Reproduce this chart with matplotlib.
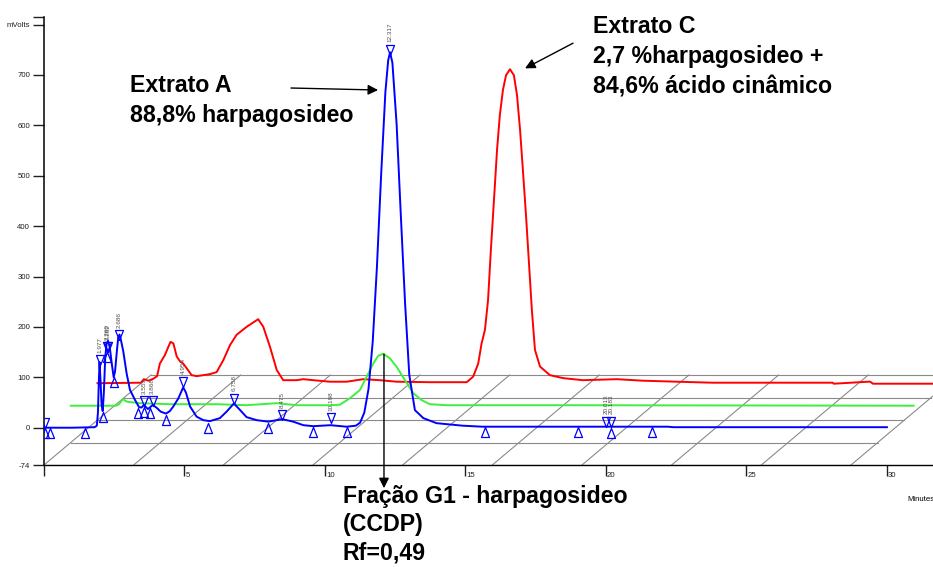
import numpy as np
import matplotlib
matplotlib.use('Agg')
import matplotlib.pyplot as plt
from matplotlib.path import Path
from matplotlib.transforms import ScaledTranslation

plt.rcParams['font.family'] = ['Liberation Sans', 'DejaVu Sans']

# --- traces (time in minutes, signal in mV), front to back ---
blue_t = [0.0, 1.0, 1.80, 1.88, 1.92, 1.95, 1.977, 2.01, 2.05, 2.09, 2.13, 2.18, 2.23, 2.28,
          2.34, 2.41, 2.48, 2.53, 2.59, 2.64, 2.686, 2.73, 2.82, 2.94, 3.06, 3.24, 3.38, 3.47,
          3.553, 3.70, 3.868, 4.00, 4.15, 4.34, 4.48, 4.60, 4.78, 4.954, 5.05, 5.20, 5.43, 5.67,
          5.90, 6.26, 6.50, 6.758, 6.98, 7.21, 7.57, 7.98, 8.28, 8.475, 8.87, 9.23, 9.58, 10.198,
          10.77, 11.10, 11.25, 11.40, 11.55, 11.70, 11.85, 12.00, 12.15, 12.25, 12.317, 12.40,
          12.55, 12.70, 12.85, 13.00, 13.20, 13.50, 13.97, 14.90, 15.60, 17.0, 19.0, 22.2, 22.4, 30.0]
blue_mv = [0, 0, 1, 4, 30, 90, 130, 95, 45, 33, 70, 140, 168, 172,
           160, 128, 100, 112, 150, 178, 185, 176, 152, 108, 75, 55, 41, 40,
           45, 37, 45, 40, 32, 28, 33, 42, 58, 80, 70, 42, 22, 15,
           13, 19, 32, 48, 35, 21, 15, 12, 15, 17, 12, 5, 3, 5,
           2, 4, 10, 30, 77, 171, 320, 503, 666, 729, 745, 724,
           602, 421, 248, 105, 35, 19, 9, 4, 2, 2, 2, 2, 1, 1]

green_t = [0.0, 1.61, 1.72, 1.85, 2.00, 2.46, 3.53, 5.19, 6.26, 7.33, 8.04, 9.23, 9.58, 9.94,
           10.29, 10.59, 10.77, 10.94, 11.12, 11.36, 11.60, 11.89, 12.19, 12.49, 12.78, 13.38,
           17.41, 30.0]
green_mv = [-1, -1, 2, 12, 7, 4, 2, 2, 0, 4, 0, 0, 1, 14,
            30, 63, 83, 98, 102, 93, 76, 50, 24, 10, 2, 0,
            0, -1]

red_t = [0.0, 1.55, 1.65, 1.81, 1.99, 2.12, 2.22, 2.40, 2.52, 2.60, 2.70, 2.82, 2.94, 3.05,
         3.17, 3.35, 3.53, 3.77, 4.00, 4.24, 4.48, 4.72, 4.95, 5.31, 5.72, 5.90, 6.14, 6.38,
         6.61, 7.09, 7.32, 7.68, 8.27, 8.87, 9.46, 10.05, 10.65, 11.83, 13.14, 13.37, 13.55,
         13.67, 13.79, 13.90, 14.00, 14.11, 14.22, 14.32, 14.43, 14.54, 14.68, 14.82, 14.93,
         15.04, 15.14, 15.25, 15.36, 15.46, 15.57, 15.75, 16.10, 16.58, 17.28, 18.48, 19.41,
         20.61, 21.90, 26.17, 26.20, 27.44, 27.50, 27.60, 30.0]
red_mv = [-1, 0, 7, 4, 8, 13, 38, 55, 71, 81, 78, 52, 42, 38,
          29, 15, 13, 15, 17, 21, 45, 75, 95, 111, 126, 111, 71, 25,
          5, 5, 7, 5, 2, 2, 7, 5, 2, 1, 1, 12, 38,
          78, 105, 164, 263, 362, 462, 531, 581, 610, 622, 610, 571,
          501, 422, 333, 234, 144, 65, 32, 15, 9, 5, 7, 4,
          2, 0, 0, -2, 2, 2, -2, -2]

# integration marks on the front trace
peak_t = [0.05, 1.977, 2.260, 2.282, 2.686, 3.553, 3.868, 4.954, 6.758, 8.475, 10.198,
          12.317, 20.013, 20.183]
peak_mv = [0, 124, 150, 150, 174, 43, 43, 81, 48, 15, 9, 740, 2, 2]
peak_lbl = ['', '1.977', '2.260', '2.282', '2.686', '3.553', '3.868', '4.954', '6.758',
            '8.475', '10.198', '12.317', '20.013', '20.183']
base_t = [0.05, 0.20, 1.45, 2.10, 2.23, 2.49, 3.36, 3.55, 3.78, 4.33, 5.85, 7.97, 9.56,
          10.80, 15.70, 18.99, 20.18, 21.65]
base_mv = [0, 0, 0, 32, 150, 101, 39, 42, 39, 25, 9, 9, 2, 1, 2, 2, 0, 2]

y_ticks = [-74, 0, 100, 200, 300, 400, 500, 600, 700, 800, 815.5]
y_tick_lbl = ['-74', '0', '100', '200', '300', '400', '500', '600', '700', 'mVolts', '']
x_ticks = [0, 5, 10, 15, 20, 25, 30]
x_tick_lbl = ['', '5', '10', '15', '20', '25', '30']

# oblique stacking of the traces
DEPTH_DT = 0.952
DEPTH_DMV = 44.64
N_DEPTH = 4
FLOOR_END = 28.72
N_DIAG = 10
Y_MIN = -74

fig = plt.figure(figsize=(9.33, 5.67), dpi=100)
ax = fig.add_axes([44 / 933, 102 / 567, 889 / 933, 448.3 / 567])
ax.set_xlim(0, 31.64)
ax.set_ylim(Y_MIN, 815.5)

# floor grid
grid_kw = dict(color='#8a8a8a', lw=0.8, zorder=1)
for i in range(N_DEPTH + 1):
    ax.plot([i * DEPTH_DT, FLOOR_END + i * DEPTH_DT],
            [Y_MIN + i * DEPTH_DMV] * 2, **grid_kw)
for k in range(N_DIAG):
    x0 = k * FLOOR_END / (N_DIAG - 1)
    ax.plot([x0, x0 + N_DEPTH * DEPTH_DT],
            [Y_MIN, Y_MIN + N_DEPTH * DEPTH_DMV], **grid_kw)

traces = [(red_t, red_mv, '#ff0000', 2), (green_t, green_mv, '#3ef03e', 1),
          (blue_t, blue_mv, '#0000ff', 0)]
for t, mv, col, depth in traces:
    ax.plot(np.array(t) + depth * DEPTH_DT, np.array(mv) + depth * DEPTH_DMV,
            color=col, lw=1.4, zorder=4 - depth)

# peak / baseline triangles
tri_down = Path([(-0.4, 1.0), (0.4, 1.0), (0, 0), (-0.4, 1.0)],
                [Path.MOVETO, Path.LINETO, Path.LINETO, Path.CLOSEPOLY])
tri_up = Path([(0, 0), (0.4, -1.0), (-0.4, -1.0), (0, 0)],
              [Path.MOVETO, Path.LINETO, Path.LINETO, Path.CLOSEPOLY])
mk = dict(ls='none', ms=14.4, mfc='none', mec='#0000ff', mew=0.9, zorder=6)
ax.plot(peak_t, peak_mv, marker=tri_down, **mk)
ax.plot(base_t, base_mv, marker=tri_up, **mk)
for t, mv, lbl in zip(peak_t, peak_mv, peak_lbl):
    if lbl:
        ax.annotate(lbl, (t, mv), xytext=(0, 9), textcoords='offset points',
                    rotation=90, ha='center', va='bottom', fontsize=4.6, color='#505050')

# axes styling
for side in ['top', 'right']:
    ax.spines[side].set_visible(False)
ax.spines['left'].set_linewidth(1.1)
ax.spines['bottom'].set_linewidth(1.0)
ax.set_yticks(y_ticks)
ax.set_yticklabels(y_tick_lbl)
ax.set_xticks(x_ticks)
ax.set_xticklabels(x_tick_lbl)
ax.tick_params(axis='both', direction='out', length=8, width=1, labelsize=5.6, colors='#202020')
ax.tick_params(axis='y', pad=2)
ax.tick_params(axis='x', pad=-2.8)
shift = ScaledTranslation(1 / 100, 0, fig.dpi_scale_trans)
for lbl in ax.get_xticklabels():
    lbl.set_horizontalalignment('left')
    lbl.set_transform(lbl.get_transform() + shift)
ax.set_xlabel('Minutes', fontsize=5.6, ha='left')
ax.xaxis.set_label_coords(0.9708, -0.069)

# annotations
txt = dict(fontsize=16.7, fontweight='bold', va='top', ha='left', linespacing=1.38)
arw = dict(arrowstyle='-|>,head_length=0.5,head_width=0.25', color='black', lw=1,
           mutation_scale=12, shrinkA=0, shrinkB=0)
ax.text(3.06, 701, 'Extrato A\n88,8% harpagosideo', **txt)
ax.annotate('', xy=(11.89, 670), xytext=(8.79, 674), arrowprops=arw)
ax.text(19.54, 818, 'Extrato C\n2,7 %harpagosideo +\n84,6% ácido cinâmico', **txt)
ax.annotate('', xy=(17.12, 713), xytext=(18.83, 763), arrowprops=arw)
ax.text(10.64, -113, 'Fração G1 - harpagosideo\n(CCDP)\nRf=0,49',
        fontsize=16.7, fontweight='bold', va='top', ha='left', linespacing=1.3)
ax.annotate('', xy=(12.1, -120), xytext=(12.1, 146), arrowprops=arw, annotation_clip=False)

fig.savefig('out.png', dpi=100)
